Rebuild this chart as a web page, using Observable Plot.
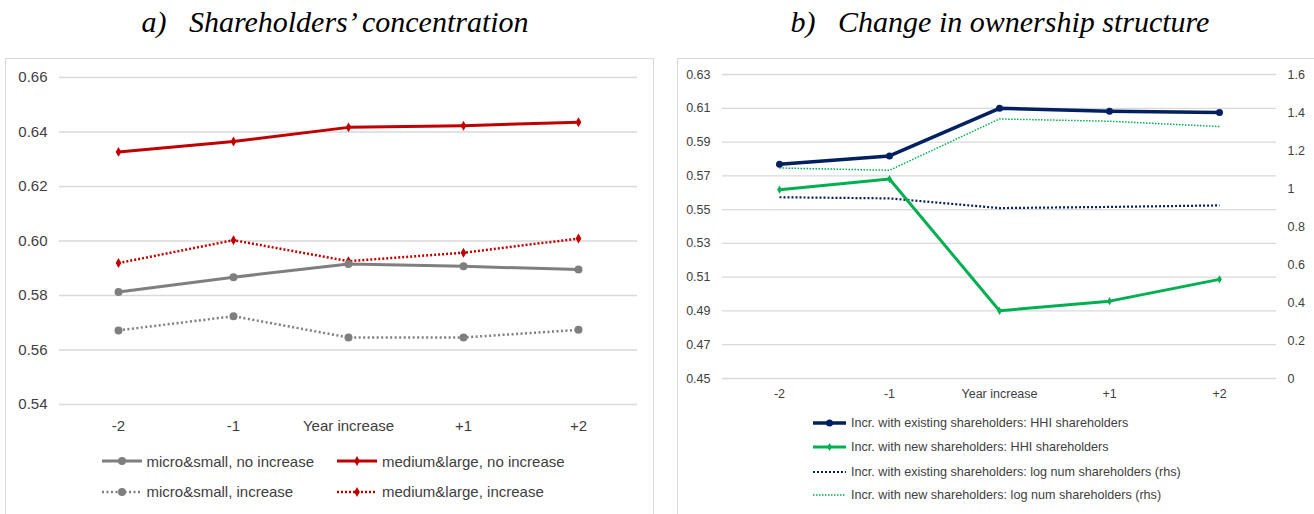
<!DOCTYPE html>
<html><head><meta charset="utf-8">
<script src="https://cdn.jsdelivr.net/npm/d3@7"></script>
<script src="https://cdn.jsdelivr.net/npm/@observablehq/plot@0.6"></script>
<style>
body{margin:0;background:#fff;width:1314px;height:514px;overflow:hidden;position:relative;font-family:"Liberation Sans",Arial,sans-serif;}
.title{position:absolute;top:4px;font-family:"Liberation Serif",serif;font-style:italic;font-size:30px;line-height:36px;white-space:pre;transform:translateX(-50%);color:#000}
.frame{position:absolute;border:1.5px solid #d9d9d9;box-sizing:border-box;}
.chart{position:absolute}
.leg{position:absolute;display:flex;align-items:center;white-space:nowrap;color:#404040;height:20px}
.leg svg{display:block;overflow:visible}
</style></head><body>
<script>
// ---------- data ----------
const categories = ["-2", "-1", "Year increase", "+1", "+2"];

// panel a
const titleA = "a)   Shareholders’ concentration";
const yTicksA = [0.54, 0.56, 0.58, 0.60, 0.62, 0.64, 0.66];
const microNoInc  = [0.5813, 0.5867, 0.5916, 0.5907, 0.5895];
const microInc    = [0.5672, 0.5724, 0.5646, 0.5646, 0.5674];
const mediumNoInc = [0.6327, 0.6365, 0.6417, 0.6423, 0.6436];
const mediumInc   = [0.5919, 0.6003, 0.5926, 0.5957, 0.6009];
const seriesNamesA = ["micro&small, no increase", "medium&large, no increase", "micro&small, increase", "medium&large, increase"];

// panel b
const titleB = "b)   Change in ownership structure";
const yTicksB = [0.45, 0.47, 0.49, 0.51, 0.53, 0.55, 0.57, 0.59, 0.61, 0.63];
const yTicksBRight = [0, 0.2, 0.4, 0.6, 0.8, 1.0, 1.2, 1.4, 1.6];
const existingHHI = [0.5768, 0.5818, 0.6100, 0.6082, 0.6075];
const newHHI      = [0.5618, 0.5681, 0.4901, 0.4958, 0.5087];
const existingLog = [0.954, 0.948, 0.897, 0.903, 0.911];   // rhs
const newLog      = [1.108, 1.096, 1.366, 1.354, 1.326];   // rhs
const seriesNamesB = [
  "Incr. with existing shareholders: HHI shareholders",
  "Incr. with new shareholders: HHI shareholders",
  "Incr. with existing shareholders: log num shareholders (rhs)",
  "Incr. with new shareholders: log num shareholders (rhs)"
];

// ---------- styles ----------
const GRAY = "#7f7f7f", RED = "#c00000", NAVY = "#002060", GREEN = "#00b050";
const stylesA = [
  {color: GRAY, width: 3, dash: null, symbol: "circle", r: 4},
  {color: RED, width: 3, dash: null, symbol: "diamond", r: 3},
  {color: GRAY, width: 2.5, dash: "2,2.5", symbol: "circle", r: 4},
  {color: RED, width: 2.5, dash: "2,2", symbol: "diamond", r: 3}
];
const stylesB = [
  {color: NAVY, width: 3.5, dash: null, symbol: "circle", r: 3.5},
  {color: GREEN, width: 3, dash: null, symbol: "diamond", r: 2.5},
  {color: NAVY, width: 2.2, dash: "2,2", symbol: null},
  {color: GREEN, width: 1.5, dash: "1.5,1.5", symbol: null}
];

const body = document.body;
function el(tag, cls, css, text) {
  const e = document.createElement(tag);
  if (cls) e.className = cls;
  if (css) Object.assign(e.style, css);
  if (text != null) e.textContent = text;
  body.appendChild(e);
  return e;
}

// titles & frames
el("div", "title", {left: "335px"}, titleA);
el("div", "title", {left: "1000px"}, titleB);
el("div", "frame", {left: "5px", top: "57.5px", width: "649px", height: "480px"});
el("div", "frame", {left: "677px", top: "57.5px", width: "700px", height: "480px"});

function rows(values, name) {
  return values.map((v, i) => ({x: categories[i], y: v, s: name}));
}
function seriesMarks(data, st) {
  const m = [Plot.line(data, {x: "x", y: "y", stroke: st.color, strokeWidth: st.width,
    strokeDasharray: st.dash || undefined, strokeLinejoin: "round", strokeLinecap: st.dash ? "butt" : "round"})];
  if (st.symbol) m.push(Plot.dot(data, {x: "x", y: "y", symbol: st.symbol, r: st.r, fill: st.color, stroke: "none"}));
  return m;
}

// ---------- panel a ----------
const dataA = [microNoInc, mediumNoInc, microInc, mediumInc].map((v, i) => rows(v, seriesNamesA[i]));
const drawOrderA = [2, 3, 0, 1];
const chartA = Plot.plot({
  width: 645, height: 380,
  marginLeft: 52, marginRight: 15, marginTop: 18, marginBottom: 35,
  x: {type: "point", domain: categories, padding: 0.5},
  y: {domain: [0.54, 0.66]},
  style: {fontFamily: "'Liberation Sans', Arial, sans-serif", fontSize: "15px", color: "#404040", background: "transparent"},
  marks: [
    Plot.ruleY(yTicksA, {stroke: "#d9d9d9", strokeWidth: 1.3}),
    Plot.axisY({ticks: yTicksA, tickSize: 0, tickPadding: 12, tickFormat: d3.format(".2f"), label: null}),
    Plot.axisX({tickSize: 0, tickPadding: 16, label: null}),
    ...drawOrderA.flatMap(i => seriesMarks(dataA[i], stylesA[i]))
  ]
});
chartA.classList.add("chart");
Object.assign(chartA.style, {left: "7px", top: "59px"});
body.appendChild(chartA);

// ---------- panel b ----------
const lo = 0.45, hi = 0.63, rhsMax = 1.6;
const toLeft = v => lo + v / rhsMax * (hi - lo);
const fromLeft = d => (d - lo) / (hi - lo) * rhsMax;
const dataB = [
  rows(existingHHI, seriesNamesB[0]),
  rows(newHHI, seriesNamesB[1]),
  rows(existingLog.map(toLeft), seriesNamesB[2]),
  rows(newLog.map(toLeft), seriesNamesB[3])
];
const drawOrderB = [3, 2, 1, 0];
const chartB = Plot.plot({
  width: 636, height: 349,
  marginLeft: 44, marginRight: 38, marginTop: 15, marginBottom: 30,
  x: {type: "point", domain: categories, padding: 0.5},
  y: {domain: [lo, hi]},
  style: {fontFamily: "'Liberation Sans', Arial, sans-serif", fontSize: "12.5px", color: "#404040", background: "transparent"},
  marks: [
    Plot.ruleY(yTicksB, {stroke: "#d9d9d9", strokeWidth: 1.3}),
    Plot.axisY({ticks: yTicksB, tickSize: 0, tickPadding: 12, tickFormat: d3.format(".2f"), label: null}),
    Plot.axisY({anchor: "right", ticks: yTicksBRight.map(toLeft), tickSize: 0, tickPadding: 11,
      tickFormat: d => d3.format("~g")(Math.round(fromLeft(d) * 10) / 10), label: null}),
    Plot.axisX({tickSize: 0, tickPadding: 11, label: null}),
    ...drawOrderB.flatMap(i => seriesMarks(dataB[i], stylesB[i]))
  ]
});
chartB.classList.add("chart");
Object.assign(chartB.style, {left: "678px", top: "59px"});
body.appendChild(chartB);

// ---------- legends ----------
const NS = "http://www.w3.org/2000/svg";
function swatch(st, w) {
  const svg = document.createElementNS(NS, "svg");
  svg.setAttribute("width", w); svg.setAttribute("height", 20);
  const ln = document.createElementNS(NS, "line");
  ln.setAttribute("x1", 0); ln.setAttribute("x2", w); ln.setAttribute("y1", 10); ln.setAttribute("y2", 10);
  ln.setAttribute("stroke", st.color); ln.setAttribute("stroke-width", st.width);
  if (st.dash) ln.setAttribute("stroke-dasharray", st.dash);
  svg.appendChild(ln);
  if (st.symbol) {
    const sym = st.symbol === "circle" ? d3.symbolCircle : d3.symbolDiamond;
    const p = document.createElementNS(NS, "path");
    p.setAttribute("d", d3.symbol(sym, Math.PI * st.r * st.r)());
    p.setAttribute("transform", `translate(${w / 2},10)`);
    p.setAttribute("fill", st.color);
    svg.appendChild(p);
  }
  return svg;
}
function legendItem(name, st, left, cy, w, gap, fs) {
  const d = el("div", "leg", {left: left + "px", top: (cy - 10) + "px", fontSize: fs + "px"});
  d.appendChild(swatch(st, w));
  const s = document.createElement("span");
  s.textContent = name; s.style.marginLeft = gap + "px";
  d.appendChild(s);
}
const legColsA = [101.5, 337], legRowsA = [461, 491.5];
seriesNamesA.forEach((n, i) => legendItem(n, stylesA[i], legColsA[i % 2], legRowsA[Math.floor(i / 2)], 40, 5, 15));
const legRowsB = [423, 447, 471.5, 495];
seriesNamesB.forEach((n, i) => legendItem(n, stylesB[i], 813, legRowsB[i], 33, 5, 12.6));
</script>
</body></html>
